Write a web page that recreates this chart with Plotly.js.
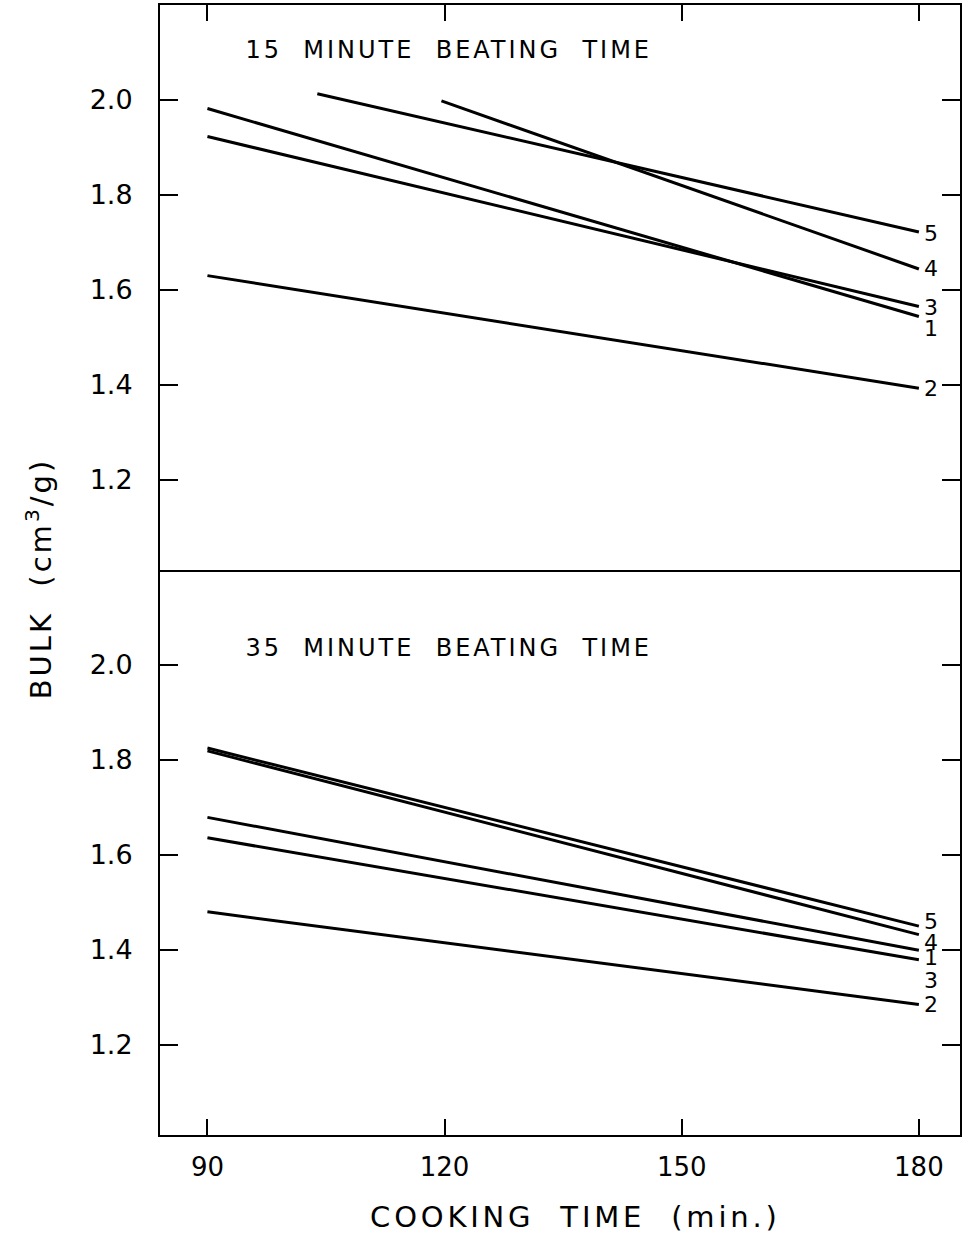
<!DOCTYPE html>
<html>
<head>
<meta charset="utf-8">
<script src="https://cdn.plot.ly/plotly-3.0.1.min.js"></script>
<style>
html,body{margin:0;padding:0;background:#fff;}
#chart .annotation-text.ttl{letter-spacing:3px;}
#chart .annotation-text.xttl{letter-spacing:3.8px;}
</style>
</head>
<body>
<div id="chart" style="width:963px;height:1247px;"></div>
<script>
// ---- data ----
const seriesNames = ["1", "2", "3", "4", "5"];

// 15 minute beating time (top panel)
const top_x = {
  "1": [90, 180],
  "2": [90, 180],
  "3": [90, 180],
  "4": [119.6, 180],
  "5": [103.9, 180]
};
const top_y = {
  "1": [1.982, 1.544],
  "2": [1.630, 1.393],
  "3": [1.923, 1.565],
  "4": [1.998, 1.644],
  "5": [2.013, 1.722]
};

// 35 minute beating time (bottom panel)
const bot_x = {
  "1": [90, 180],
  "2": [90, 180],
  "3": [90, 180],
  "4": [90, 180],
  "5": [90, 180]
};
const bot_y = {
  "1": [1.679, 1.399],
  "2": [1.480, 1.285],
  "3": [1.636, 1.379],
  "4": [1.819, 1.432],
  "5": [1.825, 1.450]
};

const xTickVals = [90, 120, 150, 180];
const xTickText = ["90", "120", "150", "180"];
const yTickVals = [1.2, 1.4, 1.6, 1.8, 2.0];
const yTickText = ["1.2", "1.4", "1.6", "1.8", "2.0"];

const panelTitles = ["15\u00A0 MINUTE\u00A0 BEATING\u00A0 TIME", "35\u00A0 MINUTE\u00A0 BEATING\u00A0 TIME"];
const xTitle = "COOKING\u00A0 TIME\u00A0 (min.)";
const yTitle = "BULK\u00A0 (cm<sup>3</sup>/g)";

// label vertical nudges (px) so end labels don't overlap
const topLabelShift = {"1": -12, "2": 0, "3": -1, "4": 0, "5": -2};
const botLabelShift = {"1": -7, "2": 0, "3": -21, "4": -8, "5": 5};

const FONT = "DejaVu Sans, sans-serif";
const lineStyle = {color: "#000", width: 3};

const traces = [];
const annotations = [];

seriesNames.forEach(n => {
  traces.push({x: top_x[n], y: top_y[n], xaxis: "x2", yaxis: "y", mode: "lines",
               line: lineStyle, showlegend: false, hoverinfo: "skip"});
  traces.push({x: bot_x[n], y: bot_y[n], xaxis: "x", yaxis: "y2", mode: "lines",
               line: lineStyle, showlegend: false, hoverinfo: "skip"});
  const tx = top_x[n], ty = top_y[n];
  annotations.push({xref: "x2", yref: "y", x: tx[tx.length-1], y: ty[ty.length-1], text: n,
    showarrow: false, xanchor: "left", yanchor: "middle", xshift: 3, yshift: topLabelShift[n],
    font: {family: FONT, size: 22, color: "#000"}});
  const bx = bot_x[n], by = bot_y[n];
  annotations.push({xref: "x", yref: "y2", x: bx[bx.length-1], y: by[by.length-1], text: n,
    showarrow: false, xanchor: "left", yanchor: "middle", xshift: 3, yshift: botLabelShift[n],
    font: {family: FONT, size: 22, color: "#000"}});
});

const TTL_IDX = [];
TTL_IDX.push(annotations.length);
annotations.push({xref: "paper", yref: "paper", x: 0.361, y: 0.960, text: panelTitles[0],
  showarrow: false, xanchor: "center", yanchor: "middle", font: {family: FONT, size: 24, color: "#000"}});
TTL_IDX.push(annotations.length);
annotations.push({xref: "paper", yref: "paper", x: 0.361, y: 0.431, text: panelTitles[1],
  showarrow: false, xanchor: "center", yanchor: "middle", font: {family: FONT, size: 24, color: "#000"}});
TTL_IDX.push(annotations.length);
annotations.push({xref: "paper", yref: "paper", x: -0.1513, y: 0.493, text: yTitle, textangle: -90,
  showarrow: false, xanchor: "center", yanchor: "middle", font: {family: FONT, size: 29, color: "#000"}});
const XT_IDX = annotations.length;
annotations.push({xref: "paper", yref: "paper", x: 0.519, y: -0.0726, text: xTitle,
  showarrow: false, xanchor: "center", yanchor: "middle", font: {family: FONT, size: 29, color: "#000"}});

const xCommon = {
  range: [84, 185.2], tickvals: xTickVals, ticktext: xTickText,
  ticks: "inside", ticklen: 16, tickwidth: 2, tickcolor: "#000",
  showline: true, linecolor: "#000", linewidth: 2,
  showgrid: false, zeroline: false, fixedrange: true
};
const yCommon = {
  range: [1.01, 2.2], tickvals: yTickVals, ticktext: yTickText,
  ticks: "inside", ticklen: 18, tickwidth: 2, tickcolor: "#000",
  showline: true, linecolor: "#000", linewidth: 2, mirror: "ticks",
  showgrid: false, zeroline: false, fixedrange: true,
  tickfont: {family: FONT, size: 27, color: "#000"}, ticklabelstandoff: 20
};

const layout = {
  width: 963, height: 1247,
  margin: {l: 160, r: 3, t: 5, b: 112},
  paper_bgcolor: "#fff", plot_bgcolor: "#fff",
  font: {family: FONT, color: "#000"},
  xaxis: Object.assign({}, xCommon, {anchor: "y2", side: "bottom", mirror: false,
    tickfont: {family: FONT, size: 26, color: "#000"}, ticklabelstandoff: 8}),
  xaxis2: Object.assign({}, xCommon, {anchor: "y", side: "top", mirror: true, matches: "x", showticklabels: false}),
  yaxis: Object.assign({}, yCommon, {domain: [0.5, 1], anchor: "x2"}),
  yaxis2: Object.assign({}, yCommon, {domain: [0, 0.5], anchor: "x"}),
  annotations: annotations,
  showlegend: false
};

Plotly.newPlot("chart", traces, layout, {displayModeBar: false, staticPlot: true}).then(gd => {
  const nodes = gd.querySelectorAll(".annotation-text");
  TTL_IDX.forEach(i => { if (nodes[i]) nodes[i].classList.add("ttl"); });
  if (nodes[XT_IDX]) nodes[XT_IDX].classList.add("xttl");
});
</script>
</body>
</html>
